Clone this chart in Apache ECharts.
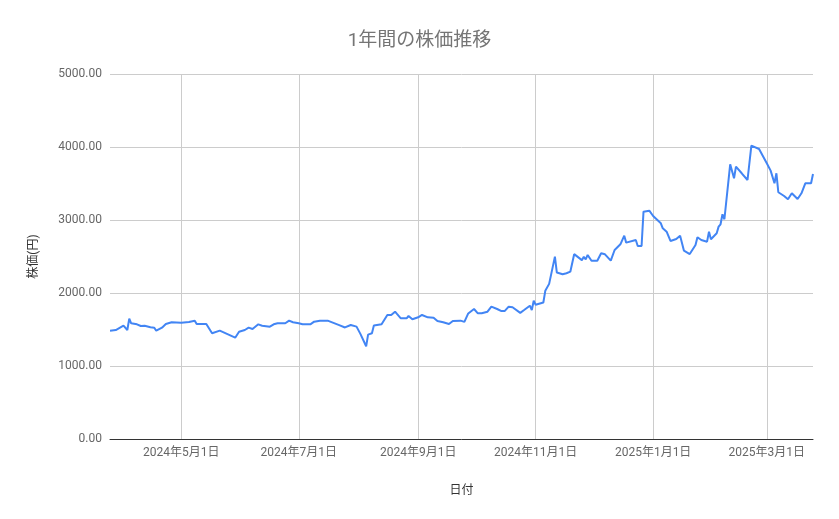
<!DOCTYPE html>
<html>
<head>
    <meta charset="utf-8">
    <title>1年間の株価推移</title>
    <script src="https://cdn.jsdelivr.net/npm/echarts@6.0.0/dist/echarts.min.js"></script>
    <style>
        html, body { margin: 0; padding: 0; background: #fff; }
        #chart { width: 839px; height: 519px; }
    </style>
</head>
<body>
    <div id="chart"></div>

    <script>
        // data
        const dates = [
            '2024-03-25', '2024-03-26', '2024-03-28', '2024-04-01', '2024-04-03', '2024-04-04', '2024-04-05',
            '2024-04-08', '2024-04-09', '2024-04-10', '2024-04-12', '2024-04-15', '2024-04-17', '2024-04-18',
            '2024-04-21', '2024-04-23', '2024-04-26', '2024-05-01', '2024-05-05', '2024-05-08', '2024-05-09',
            '2024-05-14', '2024-05-17', '2024-05-21', '2024-05-29', '2024-05-31', '2024-06-03', '2024-06-05',
            '2024-06-07', '2024-06-10', '2024-06-12', '2024-06-13', '2024-06-16', '2024-06-18', '2024-06-20',
            '2024-06-21', '2024-06-24', '2024-06-26', '2024-06-28', '2024-07-01', '2024-07-03', '2024-07-07',
            '2024-07-09', '2024-07-12', '2024-07-16', '2024-07-17', '2024-07-22', '2024-07-25', '2024-07-28',
            '2024-07-31', '2024-08-02', '2024-08-05', '2024-08-06', '2024-08-08', '2024-08-09', '2024-08-13',
            '2024-08-16', '2024-08-18', '2024-08-20', '2024-08-21', '2024-08-23', '2024-08-26', '2024-08-27',
            '2024-08-29', '2024-09-01', '2024-09-03', '2024-09-06', '2024-09-09', '2024-09-11', '2024-09-12',
            '2024-09-14', '2024-09-17', '2024-09-19', '2024-09-23', '2024-09-25', '2024-09-27', '2024-09-30',
            '2024-10-02', '2024-10-04', '2024-10-07', '2024-10-09', '2024-10-12', '2024-10-14', '2024-10-16',
            '2024-10-18', '2024-10-20', '2024-10-24', '2024-10-26', '2024-10-29', '2024-10-30', '2024-10-31',
            '2024-11-01', '2024-11-05', '2024-11-06', '2024-11-08', '2024-11-11', '2024-11-12', '2024-11-15',
            '2024-11-17', '2024-11-19', '2024-11-21', '2024-11-25', '2024-11-26', '2024-11-27', '2024-11-28',
            '2024-11-30', '2024-12-03', '2024-12-05', '2024-12-07', '2024-12-10', '2024-12-12', '2024-12-15',
            '2024-12-17', '2024-12-18', '2024-12-23', '2024-12-24', '2024-12-26', '2024-12-27', '2024-12-30',
            '2025-01-01', '2025-01-05', '2025-01-06', '2025-01-08', '2025-01-10', '2025-01-13', '2025-01-15',
            '2025-01-16', '2025-01-17', '2025-01-20', '2025-01-23', '2025-01-24', '2025-01-26', '2025-01-29',
            '2025-01-30', '2025-01-31', '2025-02-03', '2025-02-04', '2025-02-05', '2025-02-06', '2025-02-07',
            '2025-02-10', '2025-02-12', '2025-02-13', '2025-02-16', '2025-02-19', '2025-02-20', '2025-02-21',
            '2025-02-25', '2025-03-01', '2025-03-03', '2025-03-05', '2025-03-06', '2025-03-07', '2025-03-10',
            '2025-03-12', '2025-03-14', '2025-03-17', '2025-03-19', '2025-03-21', '2025-03-24', '2025-03-25'
        ];
        const prices = [
            1484, 1507, 1493, 1552, 1493, 1648, 1585,
            1571, 1593, 1548, 1552, 1530, 1525, 1484,
            1525, 1575, 1599, 1593, 1603, 1621, 1575,
            1575, 1448, 1484, 1388, 1470, 1493, 1525,
            1507, 1571, 1552, 1571, 1539, 1571, 1585,
            1571, 1585, 1621, 1599, 1585, 1571, 1571,
            1607, 1621, 1621, 1610, 1560, 1528, 1562,
            1539, 1440, 1270, 1430, 1448, 1555, 1571,
            1699, 1699, 1744, 1713, 1653, 1653, 1685,
            1640, 1667, 1699, 1667, 1662, 1617, 1640,
            1599, 1575, 1617, 1621, 1605, 1720, 1781,
            1722, 1722, 1744, 1813, 1781, 1754, 1754,
            1813, 1804, 1728, 1767, 1826, 1767, 1893,
            1840, 1870, 2030, 2125, 2498, 2280, 2256,
            2270, 2292, 2532, 2450, 2495, 2460, 2521,
            2441, 2441, 2544, 2530, 2443, 2589, 2667,
            2785, 2690, 2726, 2644, 2644, 3114, 3128,
            3055, 2955, 2886, 2840, 2713, 2740, 2785,
            2772, 2580, 2534, 2658, 2763, 2726, 2703,
            2840, 2736, 2818, 2909, 2941, 3078, 3010,
            3763, 3571, 3730, 3640, 3548, 3525, 4018,
            3973, 3777, 3676, 3503, 3640, 3380, 3329,
            3284, 3366, 3288, 3366, 3503, 3503, 3630
        ];
        const tickDates = ['2024-05-01', '2024-07-01', '2024-09-01', '2024-11-01', '2025-01-01', '2025-03-01'];

        const fontFamily = 'Roboto, "Noto Sans CJK JP", sans-serif';

        function toTime(s) {
            const p = s.split('-');
            return new Date(+p[0], +p[1] - 1, +p[2]).getTime();
        }

        const tickValues = tickDates.map(toTime);
        const seriesData = dates.map((d, i) => [toTime(d), prices[i]]);

        const chart = echarts.init(document.getElementById('chart'));

        chart.setOption({
            animation: false,
            title: {
                text: '1年間の株価推移',
                left: 'center',
                top: 27,
                textStyle: { fontFamily: fontFamily, fontSize: 19, fontWeight: 'normal', color: '#757575' }
            },
            grid: { left: 110, right: 26, top: 74, bottom: 80, containLabel: false },
            xAxis: {
                // plain value axis holding timestamps, so the month ticks can be placed exactly
                type: 'value',
                min: toTime(dates[0]),
                max: toTime(dates[dates.length - 1]),
                name: '日付',
                nameLocation: 'middle',
                nameGap: 46,
                nameTextStyle: { fontFamily: fontFamily, fontSize: 12, color: '#333' },
                axisLine: { show: true, onZero: false, lineStyle: { color: '#333', width: 1 } },
                axisTick: { show: false, customValues: tickValues },
                axisLabel: {
                    customValues: tickValues,
                    fontFamily: fontFamily,
                    fontSize: 12,
                    color: '#666',
                    margin: 8,
                    formatter: function (v) {
                        const d = new Date(v);
                        return d.getFullYear() + '年' + (d.getMonth() + 1) + '月' + d.getDate() + '日';
                    }
                },
                splitLine: { show: true, lineStyle: { color: '#cccccc', width: 1 } }
            },
            yAxis: {
                type: 'value',
                min: 0,
                max: 5000,
                interval: 1000,
                name: '株価(円)',
                nameLocation: 'middle',
                nameGap: 70,
                nameTextStyle: { fontFamily: fontFamily, fontSize: 12, color: '#333' },
                axisLine: { show: false },
                axisTick: { show: false },
                axisLabel: {
                    fontFamily: fontFamily,
                    fontSize: 12,
                    color: '#666',
                    margin: 8,
                    formatter: function (v) { return v.toFixed(2); }
                },
                splitLine: { show: true, lineStyle: { color: '#cccccc', width: 1 } }
            },
            series: [{
                type: 'line',
                data: seriesData,
                showSymbol: false,
                symbol: 'none',
                lineStyle: { color: '#4285F4', width: 2 },
                itemStyle: { color: '#4285F4' }
            }]
        });
    </script>
</body>
</html>
